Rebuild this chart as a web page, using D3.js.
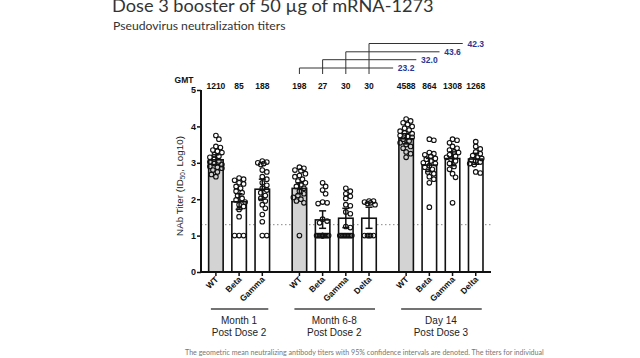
<!DOCTYPE html>
<html><head><meta charset="utf-8">
<script src="https://cdn.jsdelivr.net/npm/d3@7"></script>
<style>body{margin:0;background:#fff}svg{display:block}</style>
</head><body><svg id="c" width="640" height="358"></svg>
<script>
const groups = [
  {l1:"Month 1", l2:"Post Dose 2"},
  {l1:"Month 6-8", l2:"Post Dose 2"},
  {l1:"Day 14", l2:"Post Dose 3"}
];
const categories = [["WT","Beta","Gamma"],["WT","Beta","Gamma","Delta"],["WT","Beta","Gamma","Delta"]];
const gmt = [[1210,85,188],[198,27,30,30],[4588,864,1308,1268]];
const ciLow  = [[2.95,1.72,2.00],[2.15,1.20,1.22,1.20],[3.52,2.76,2.92,2.96]];
const ciHigh = [[3.22,2.15,2.55],[2.45,1.68,1.75,1.78],[3.80,3.12,3.30,3.26]];
const points = [
 [
  [3.75,3.65,3.45,3.42,3.35,3.32,3.28,3.22,3.18,3.15,3.10,3.05,3.02,2.98,2.95,2.90,2.88,2.85,2.80,2.75,2.68,2.62],
  [2.58,2.55,2.52,2.45,2.42,2.35,2.30,2.22,2.18,2.10,2.02,1.98,1.92,1.85,1.80,1.72,1.52,1.0,1.0,1.0],
  [3.05,3.02,3.0,2.98,2.95,2.80,2.75,2.62,2.55,2.45,2.38,2.30,2.25,2.18,2.10,2.02,1.95,1.85,1.75,1.58,1.38,1.0,1.0]
 ],
 [
  [2.88,2.85,2.80,2.78,2.70,2.65,2.62,2.55,2.50,2.45,2.40,2.35,2.30,2.22,2.15,2.10,2.05,2.0,1.95,1.90,1.0],
  [2.45,2.35,2.25,2.15,1.92,1.90,1.88,1.45,1.40,1.35,1,1,1,1,1,1,1,1,1,1,1,1],
  [2.30,2.22,2.15,2.08,2.02,1.85,1.82,1.65,1.60,1.25,1.22,1,1,1,1,1,1,1,1,1],
  [1.95,1.95,1.92,1.90,1.88,1.85,1,1,1,1,1]
 ],
 [
  [4.20,4.15,4.10,4.05,4.0,3.95,3.90,3.87,3.82,3.80,3.75,3.72,3.70,3.65,3.60,3.55,3.50,3.45,3.40,3.30,3.25,3.15],
  [3.65,3.62,3.28,3.25,3.22,3.18,3.12,3.10,3.05,3.0,2.98,2.92,2.88,2.82,2.75,2.70,2.62,2.55,2.45,1.78],
  [3.65,3.62,3.55,3.45,3.40,3.35,3.30,3.28,3.22,3.18,3.15,3.10,3.05,2.98,2.90,2.82,2.70,2.60,1.90],
  [3.58,3.45,3.38,3.30,3.25,3.20,3.15,3.12,3.08,3.05,3.02,2.98,2.95,2.75,2.72]
 ]
];
const foldLabels = ["23.2","32.0","43.6","42.3"];
const yTicks = [0,1,2,3,4,5];
const lod = 1.3;

const svg = d3.select("#c");
const y = d3.scaleLinear().domain([0,5]).range([272,90]);
const slotScale = d3.scaleLinear().domain([0,1]).range([192.7,215.9]);
const groupSlots = 4.6;
const cx = (g,i) => slotScale(g*groupSlots + (4 - categories[g].length) + i);
const barW = 14.5;
const font = "'Liberation Sans', Arial, sans-serif";

// titles
svg.append("text").attr("x",112).attr("y",12).attr("font-family","Lato, 'DejaVu Sans', sans-serif")
  .attr("font-size",18.2).attr("fill","#333").text("Dose 3 booster of 50 µg of mRNA-1273");
svg.append("text").attr("x",113).attr("y",30).attr("font-family","Lato, 'DejaVu Sans', sans-serif")
  .attr("font-size",12.2).attr("fill","#333").text("Pseudovirus neutralization titers");
svg.append("text").attr("x",185).attr("y",355).attr("font-family","Lato, sans-serif")
  .attr("font-size",7.1).attr("fill","#777")
  .text("The geometric mean neutralizing antibody titers with 95% confidence intervals are denoted. The titers for individual");

// LOD dotted line
svg.append("line").attr("x1",201).attr("x2",491).attr("y1",y(lod)).attr("y2",y(lod))
  .attr("stroke","#888").attr("stroke-width",1).attr("stroke-dasharray","1.5,2.5");

// bars
const flat = [];
categories.forEach((cats,g)=>cats.forEach((c,i)=>flat.push({g,i,c,gmt:gmt[g][i],lo:ciLow[g][i],hi:ciHigh[g][i],pts:points[g][i]})));
svg.selectAll("rect.bar").data(flat).join("rect").attr("class","bar")
  .attr("x",d=>cx(d.g,d.i)-barW/2).attr("width",barW)
  .attr("y",d=>y(Math.log10(d.gmt))).attr("height",d=>y(0)-y(Math.log10(d.gmt)))
  .attr("fill",d=>d.c==="WT"?"#d3d3d3":"#fff").attr("stroke","#111").attr("stroke-width",1.6);

// points (beeswarm)
const r = 2.3;
flat.forEach(d=>{
  const x0 = cx(d.g,d.i);
  const placed = [];
  const cand = d3.range(-6,6.01,1.5).sort((a,b)=>Math.abs(a)-Math.abs(b)||b-a);
  d.pts.slice().sort((a,b)=>b-a).forEach(v=>{
    const py = y(v);
    let best=null, bestD=-1;
    for(const o of cand){
      let md = Infinity;
      placed.forEach(p=>{md=Math.min(md,Math.hypot(p[0]-o,p[1]-py));});
      if(md>=2*r*0.95){best=o;bestD=md;break;}
      if(md>bestD){bestD=md;best=o;}
    }
    placed.push([best,py]);
  });
  svg.append("g").selectAll("circle").data(placed).join("circle")
    .attr("cx",p=>x0+p[0]).attr("cy",p=>p[1]).attr("r",r)
    .attr("fill","none").attr("stroke","#111").attr("stroke-width",1.1);
});

// error bars
const eb = svg.append("g").attr("stroke","#111").attr("stroke-width",1.5);
flat.forEach(d=>{
  const x0=cx(d.g,d.i);
  eb.append("line").attr("x1",x0).attr("x2",x0).attr("y1",y(d.lo)).attr("y2",y(d.hi));
  eb.append("line").attr("x1",x0-3.5).attr("x2",x0+3.5).attr("y1",y(d.lo)).attr("y2",y(d.lo));
  eb.append("line").attr("x1",x0-3.5).attr("x2",x0+3.5).attr("y1",y(d.hi)).attr("y2",y(d.hi));
});

// y axis
const ya = svg.append("g").attr("transform","translate(201,0)")
  .call(d3.axisLeft(y).tickValues(yTicks).tickSize(4).tickFormat(d3.format("d")));
ya.select(".domain").attr("stroke","#111").attr("stroke-width",2).attr("d","M0,"+y(5)+"V"+y(0));
ya.selectAll(".tick line").attr("stroke","#111").attr("stroke-width",1.5);
ya.selectAll(".tick text").attr("font-family",font).attr("font-size",9).attr("font-weight","bold").attr("fill","#111").attr("x",-5);

// x axis baseline
svg.append("line").attr("x1",200).attr("x2",491).attr("y1",y(0)).attr("y2",y(0)).attr("stroke","#111").attr("stroke-width",2);
svg.selectAll("line.xt").data(flat).join("line").attr("class","xt")
  .attr("x1",d=>cx(d.g,d.i)).attr("x2",d=>cx(d.g,d.i)).attr("y1",y(0)).attr("y2",y(0)+4)
  .attr("stroke","#111").attr("stroke-width",1.5);
svg.selectAll("text.xl").data(flat).join("text").attr("class","xl")
  .attr("transform",d=>`translate(${cx(d.g,d.i)+3},${y(0)+8}) rotate(-45)`)
  .attr("text-anchor","end").attr("font-family",font).attr("font-size",8.5).attr("font-weight","bold")
  .attr("fill","#111").text(d=>d.c);

// y label
const yl = svg.append("text").attr("transform","translate(183,186) rotate(-90)")
  .attr("text-anchor","middle").attr("font-family",font).attr("font-size",9.8).attr("fill","#222");
yl.append("tspan").text("NAb Titer (ID");
yl.append("tspan").attr("font-size",6.5).attr("dy",2).text("50");
yl.append("tspan").attr("dy",-2).text(", Log10)");

// group labels
groups.forEach((gr,g)=>{
  const a=cx(g,0), b=cx(g,categories[g].length-1), m=(a+b)/2;
  svg.append("line").attr("x1",a-5).attr("x2",b+6).attr("y1",309).attr("y2",309).attr("stroke","#444").attr("stroke-width",1.6);
  svg.append("text").attr("x",m).attr("y",324).attr("text-anchor","middle").attr("font-family",font).attr("font-size",10).attr("fill","#222").text(gr.l1);
  svg.append("text").attr("x",m).attr("y",336).attr("text-anchor","middle").attr("font-family",font).attr("font-size",10).attr("fill","#222").text(gr.l2);
});

// GMT row
svg.append("text").attr("x",184).attr("y",83).attr("text-anchor","middle").attr("font-family",font)
  .attr("font-size",8.5).attr("font-weight","bold").attr("fill","#111").text("GMT");
svg.selectAll("text.gmt").data(flat).join("text").attr("class","gmt")
  .attr("x",d=>cx(d.g,d.i)).attr("y",89).attr("text-anchor","middle").attr("font-family",font)
  .attr("font-size",8.5).attr("font-weight","bold").attr("fill","#111").text(d=>d.gmt);

// fold-change brackets
const levels = [68,59.7,51.8,43.5];
foldLabels.forEach((lab,i)=>{
  const xa = cx(1,i), xb = cx(2,i);
  svg.append("path").attr("d",`M${xa},74V${levels[i]}H${xb-13}`).attr("fill","none").attr("stroke","#333").attr("stroke-width",1);
  svg.append("text").attr("x",xb).attr("y",levels[i]+3).attr("text-anchor","middle").attr("font-family",font)
    .attr("font-size",8.5).attr("font-weight","bold").attr("fill","#2a3795").text(lab);
});
</script></body></html>
